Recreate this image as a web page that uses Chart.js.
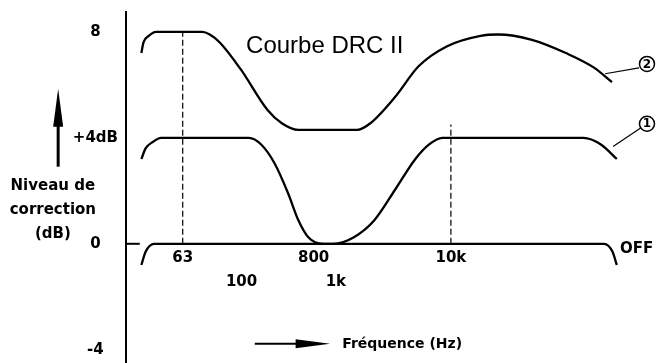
<!DOCTYPE html>
<html>
<head>
<meta charset="utf-8">
<script src="https://cdn.jsdelivr.net/npm/chart.js@4.4.1/dist/chart.umd.min.js"></script>
<style>
  html, body { margin: 0; padding: 0; background: #fff; }
  #wrap { width: 657px; height: 363px; position: relative; }
</style>
</head>
<body>
<div id="wrap"><canvas id="drc"></canvas></div>
<script>
// x = position along the frequency axis (0-100), y = correction level in dB
const curve2X = [2.9, 3.3, 4.3, 5.7, 14.4, 15.8, 17.7, 21.6, 26.7, 29.4, 32.5, 43.6, 46.1, 50.8, 55.2, 60.5, 66.9, 70.2, 76.6, 83.0, 88.3, 91.7];
const curve2Y = [7.2, 7.6, 7.85, 8, 8, 7.9, 7.6, 6.6, 5.05, 4.55, 4.3, 4.3, 4.55, 5.55, 6.7, 7.45, 7.85, 7.9, 7.7, 7.2, 6.65, 6.1];

const curve1X = [2.9, 3.7, 5.1, 6.6, 23.2, 25.5, 28.0, 30.6, 32.5, 34.4, 37.2, 39.1, 43.0, 46.9, 50.8, 54.6, 57.2, 59.7, 86.3, 89.6, 92.6];
const curve1Y = [3.2, 3.6, 3.85, 4, 4, 3.75, 3.05, 1.9, 0.9, 0.25, 0, 0, 0.25, 0.9, 2.05, 3.2, 3.75, 4, 4, 3.75, 3.2];

const offX = [2.9, 3.7, 5.3, 90.2, 91.8, 92.6];
const offY = [-0.8, -0.3, 0, 0, -0.3, -0.8];

const freqTickPos = [10.7, 21.8, 35.4, 39.6, 61.3];
const freqTickLabels = [["63", ""], ["", "100"], ["800", ""], ["", "1k"], ["10k", ""]];

const levelTicks = [-4, 0, 4, 8];
const levelTickLabels = ["-4", "0", "+4dB", "8"];

// dashed guides at 63 Hz and 10 kHz, and how high they reach
const guideX = [10.7, 61.3];
const guideTop = [8, 4.5];

const BOLD = "'DejaVu Sans', sans-serif";
const INK = "#000";

const toPoints = (xs, ys) => xs.map((v, i) => ({x: v, y: ys[i]}));

const curveStyle = {
    borderColor: INK,
    borderWidth: 2.3,
    pointRadius: 0,
    fill: false,
    cubicInterpolationMode: "monotone",
};

const guides = guideX.map((gx, i) => ({
    data: [{x: gx, y: 0}, {x: gx, y: guideTop[i]}],
    borderColor: INK,
    borderWidth: 1.2,
    borderDash: [6, 3],
    pointRadius: 0,
    fill: false,
}));

// labels, arrows and callouts around the plot
const decor = {
    id: "decor",
    afterDraw(chart) {
        const {ctx, scales: {x, y}} = chart;
        const px = v => x.getPixelForValue(v);
        const py = v => y.getPixelForValue(v);
        ctx.save();
        ctx.fillStyle = INK;
        ctx.strokeStyle = INK;

        // small 0 mark next to the axis
        ctx.lineWidth = 2;
        ctx.beginPath();
        ctx.moveTo(px(0), py(0));
        ctx.lineTo(px(2.6), py(0));
        ctx.stroke();

        // vertical arrow + axis title
        const ax = px(-12.8);
        ctx.lineWidth = 3;
        ctx.beginPath();
        ctx.moveTo(ax, py(2.91));
        ctx.lineTo(ax, py(4.6));
        ctx.stroke();
        ctx.beginPath();
        ctx.moveTo(ax, py(5.85));
        ctx.lineTo(ax - 5, py(4.42));
        ctx.lineTo(ax + 5, py(4.42));
        ctx.closePath();
        ctx.fill();

        ctx.font = "bold 15px " + BOLD;
        ctx.textAlign = "center";
        ctx.textBaseline = "middle";
        const tx = px(-13.8);
        ctx.fillText("Niveau de", tx, py(2.19));
        ctx.fillText("correction", tx, py(1.28));
        ctx.fillText("(dB)", tx, py(0.38));

        // horizontal arrow + axis title
        const hy = py(-3.77);
        ctx.lineWidth = 2;
        ctx.beginPath();
        ctx.moveTo(px(24.3), hy);
        ctx.lineTo(px(33), hy);
        ctx.stroke();
        ctx.beginPath();
        ctx.moveTo(px(32.0), hy - 4.5);
        ctx.lineTo(px(38.5), hy);
        ctx.lineTo(px(32.0), hy + 4.5);
        ctx.closePath();
        ctx.fill();
        ctx.font = "bold 14px " + BOLD;
        ctx.textAlign = "left";
        ctx.fillText("Fréquence (Hz)", px(40.8), py(-3.79));

        // title
        ctx.font = "24px 'Liberation Sans', Arial, sans-serif";
        ctx.textAlign = "center";
        ctx.fillText("Courbe DRC II", px(37.5), py(7.44));

        // OFF
        ctx.font = "bold 15px " + BOLD;
        ctx.textAlign = "left";
        ctx.fillText("OFF", px(93.2), py(-0.19));

        // numbered callouts
        const callout = (num, x0, y0, x1, y1, cx, cy) => {
            ctx.lineWidth = 1.2;
            ctx.beginPath();
            ctx.moveTo(px(x0), py(y0));
            ctx.lineTo(px(x1), py(y1));
            ctx.stroke();
            ctx.lineWidth = 1.5;
            ctx.beginPath();
            ctx.arc(px(cx), py(cy), 7.5, 0, Math.PI * 2);
            ctx.stroke();
            ctx.font = "bold 12px " + BOLD;
            ctx.textAlign = "center";
            ctx.fillText(num, px(cx), py(cy) + 0.5);
        };
        callout("2", 90.4, 6.42, 96.8, 6.64, 98.3, 6.79);
        callout("1", 91.9, 3.67, 97.1, 4.37, 98.3, 4.53);

        ctx.restore();
    },
};

new Chart(document.getElementById("drc"), {
    type: "line",
    data: {
        datasets: [
            {...curveStyle, data: toPoints(curve2X, curve2Y)},
            {...curveStyle, data: toPoints(curve1X, curve1Y)},
            {...curveStyle, data: toPoints(offX, offY)},
            ...guides,
        ],
    },
    options: {
        responsive: true,
        maintainAspectRatio: false,
        animation: false,
        events: [],
        layout: {padding: {left: 70, right: 1, top: 12, bottom: 0}, autoPadding: false},
        plugins: {legend: {display: false}, tooltip: {enabled: false}},
        scales: {
            x: {
                type: "linear",
                min: 0,
                max: 100,
                position: {y: 0},
                grid: {display: false, drawTicks: false},
                border: {display: false},
                afterBuildTicks: s => { s.ticks = freqTickPos.map(v => ({value: v})); },
                ticks: {
                    autoSkip: false,
                    maxRotation: 0,
                    padding: 2.5,
                    color: INK,
                    font: {family: BOLD, size: 15, weight: "bold", lineHeight: 1.6},
                    callback: (v, i) => freqTickLabels[i],
                },
            },
            y: {
                type: "linear",
                min: -4.5,
                max: 8.75,
                grid: {display: false, drawTicks: false},
                border: {display: true, color: INK, width: 2},
                afterBuildTicks: s => { s.ticks = levelTicks.map(v => ({value: v})); },
                afterFit: s => { s.width = 56; s.paddingTop = 0; s.paddingBottom = 0; },
                ticks: {
                    crossAlign: "center",
                    padding: 8,
                    color: INK,
                    font: {family: BOLD, size: 15, weight: "bold"},
                    callback: (v, i) => levelTickLabels[i],
                },
            },
        },
    },
    plugins: [decor],
});
</script>
</body>
</html>
